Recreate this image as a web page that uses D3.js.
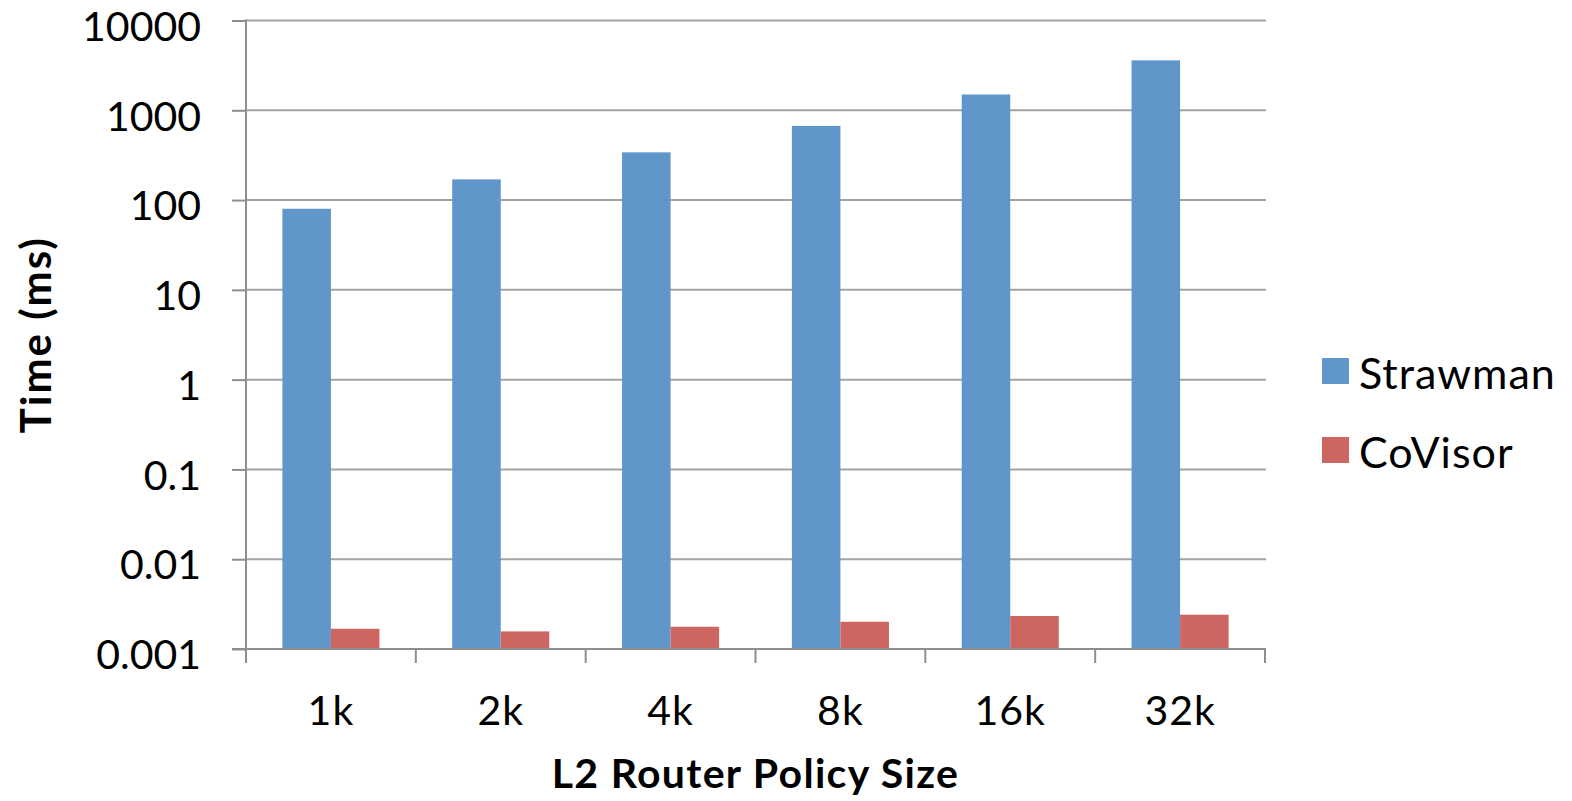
<!DOCTYPE html>
<html>
<head>
<meta charset="utf-8">
<script src="https://cdn.jsdelivr.net/npm/d3@7"></script>
<style>
  html, body { margin: 0; padding: 0; background: #fff; }
  svg { display: block; font-family: Lato, "Open Sans", sans-serif; }
</style>
</head>
<body>
<svg id="chart" width="1572" height="801"></svg>
<script>
// Policy sizes on the x axis
const categories = ["1k", "2k", "4k", "8k", "16k", "32k"];
// Compile time in milliseconds for each approach
const strawman = [80, 170, 340, 670, 1500, 3600];
const covisor = [0.00168, 0.00157, 0.00177, 0.00201, 0.00233, 0.00241];
const seriesNames = ["Strawman", "CoVisor"];
const yTicks = [0.001, 0.01, 0.1, 1, 10, 100, 1000, 10000];
const yTickLabels = ["0.001", "0.01", "0.1", "1", "10", "100", "1000", "10000"];

const colors = { Strawman: "#6096c9", CoVisor: "#cd6660" };
const series = [
  { name: seriesNames[0], values: strawman },
  { name: seriesNames[1], values: covisor }
];

const svg = d3.select("#chart");
const plot = { left: 246, right: 1265, top: 20.5, bottom: 649 };

const x = d3.scaleBand().domain(categories).range([plot.left, plot.right]).padding(0);
const xInner = d3.scaleBand().domain(seriesNames).range([0, x.bandwidth()])
  .paddingInner(0).paddingOuter(0.75);
const y = d3.scaleLog().domain([0.001, 10000]).range([plot.bottom, plot.top]);

// Horizontal gridlines
svg.append("g").selectAll("line").data(yTicks.slice(1)).join("line")
  .attr("x1", plot.left).attr("x2", plot.right + 1)
  .attr("y1", d => y(d)).attr("y2", d => y(d))
  .attr("stroke", "#a3a3a3").attr("stroke-width", 2);

// Bars
const groups = svg.append("g").selectAll("g").data(categories).join("g")
  .attr("transform", d => `translate(${x(d)},0)`);
groups.selectAll("rect")
  .data((c, i) => series.map(s => ({ name: s.name, value: s.values[i] })))
  .join("rect")
  .attr("x", d => xInner(d.name))
  .attr("width", xInner.bandwidth())
  .attr("y", d => y(d.value))
  .attr("height", d => plot.bottom - y(d.value))
  .attr("fill", d => colors[d.name]);

// Y axis
const yAxis = d3.axisLeft(y).tickValues(yTicks)
  .tickFormat((d, i) => yTickLabels[i]).tickSize(14).tickPadding(31);
const gy = svg.append("g").attr("transform", `translate(${plot.left},0)`).call(yAxis);
gy.select(".domain").attr("stroke", "#8e8e8e").attr("stroke-width", 2)
  .attr("d", `M0,${plot.top - 1}V${plot.bottom}`);
gy.selectAll(".tick line").attr("stroke", "#8e8e8e").attr("stroke-width", 2);
gy.selectAll(".tick text").attr("font-size", 41).attr("fill", "#000")
  .attr("font-family", "Lato, 'Open Sans', sans-serif")
  .attr("y", 5).attr("dy", "0.36em");

// X axis with boundary ticks between categories
const gx = svg.append("g").attr("transform", `translate(0,${plot.bottom})`);
gx.append("line").attr("x1", plot.left - 14).attr("x2", plot.right + 1)
  .attr("stroke", "#8e8e8e").attr("stroke-width", 2);
const bounds = categories.map(c => x(c)).concat([x(categories[categories.length - 1]) + x.bandwidth()]);
gx.selectAll("line.b").data(bounds).join("line").attr("class", "b")
  .attr("x1", d => d).attr("x2", d => d).attr("y1", 0).attr("y2", 14)
  .attr("stroke", "#8e8e8e").attr("stroke-width", 2);
gx.selectAll("text").data(categories).join("text")
  .attr("x", d => x(d) + x.bandwidth() / 2).attr("y", 76)
  .attr("text-anchor", "middle").attr("font-size", 41).attr("fill", "#000")
  .attr("letter-spacing", 1)
  .text(d => d);

// Axis titles
svg.append("text").attr("x", (plot.left + plot.right) / 2).attr("y", 788)
  .attr("text-anchor", "middle").attr("font-size", 41).attr("font-weight", "bold")
  .attr("letter-spacing", 1.3)
  .text("L2 Router Policy Size");
svg.append("text").attr("transform", `translate(51,${(plot.top + plot.bottom) / 2}) rotate(-90)`)
  .attr("text-anchor", "middle").attr("font-size", 42).attr("font-weight", "bold")
  .attr("letter-spacing", 2)
  .text("Time (ms)");

// Legend
const legend = svg.append("g").attr("transform", "translate(1322,358)");
const items = legend.selectAll("g").data(seriesNames).join("g")
  .attr("transform", (d, i) => `translate(0,${i * 79})`);
items.append("rect").attr("width", 27).attr("height", 26).attr("fill", d => colors[d]);
items.append("text").attr("x", 37).attr("y", 31).attr("font-size", 43)
  .attr("letter-spacing", 1).text(d => d);
</script>
</body>
</html>
